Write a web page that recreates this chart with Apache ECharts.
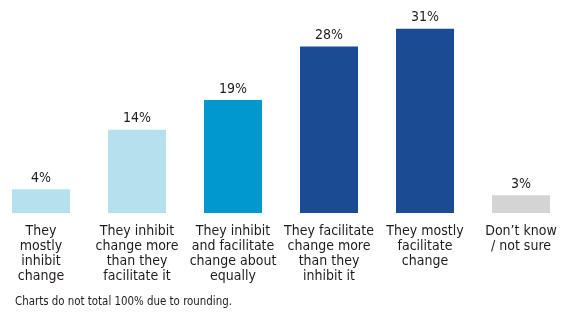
<!DOCTYPE html>
<html lang="en">

<head>
  <meta charset="UTF-8">
  <title>Change survey bar chart</title>
  <style>
    * {
      margin: 0;
      padding: 0;
      box-sizing: border-box;
    }

    body {
      position: relative;
      background-color: #fff;
      width: 565px;
      height: 312px;
      overflow: hidden;
    }

    /* bands are 96px wide, so the plot runs a few px past both edges */
    .chart {
      position: absolute;
      left: -7px;
      top: 0;
      width: 576px;
      height: 312px;
    }
  </style>
</head>

<body>
  <div id="chart" class="chart"></div>
  <script src="https://cdn.jsdelivr.net/npm/echarts@6/dist/echarts.min.js"></script>
  <script>
    const categories = [
      'They\nmostly\ninhibit\nchange',
      'They inhibit\nchange more\nthan they\nfacilitate it',
      'They inhibit\nand facilitate\nchange about\nequally',
      'They facilitate\nchange more\nthan they\ninhibit it',
      'They mostly\nfacilitate\nchange',
      'Don’t know\n/ not sure'
    ]
    const values = [4, 14, 19, 28, 31, 3]
    const barColors = ['#b4e1ed', '#b4e1ed', '#0098ce', '#1b4b92', '#1b4b92', '#d4d4d4']
    const footnote = 'Charts do not total 100% due to rounding.'

    const font = '"Liberation Sans Narrow", "DejaVu Sans Condensed", "Roboto", sans-serif'

    const chart = echarts.init(document.querySelector('#chart'))
    const options = {
      animation: false,
      grid: {
        left: 0,
        right: 0,
        top: 5,
        bottom: 99,
        containLabel: false
      },
      xAxis: {
        type: 'category',
        data: categories,
        axisLine: { show: false },
        axisTick: { show: false },
        axisLabel: {
          interval: 0,
          margin: 11,
          color: '#1f1b1c',
          fontFamily: font,
          fontSize: 14,
          lineHeight: 15,
          align: 'center'
        }
      },
      yAxis: {
        type: 'value',
        min: 0,
        max: 35,
        show: false
      },
      series: [
        {
          type: 'bar',
          barWidth: 58,
          data: values.map((v, i) => ({ value: v, itemStyle: { color: barColors[i] } })),
          label: {
            show: true,
            position: 'top',
            distance: 4,
            formatter: '{c}%',
            color: '#1f1b1c',
            fontFamily: font,
            fontSize: 14
          }
        }
      ],
      graphic: [
        {
          type: 'text',
          left: 22,
          top: 297,
          style: {
            text: footnote,
            fill: '#1f1b1c',
            font: '11.4px ' + font
          }
        }
      ]
    }

    chart.setOption(options)
  </script>
</body>

</html>
